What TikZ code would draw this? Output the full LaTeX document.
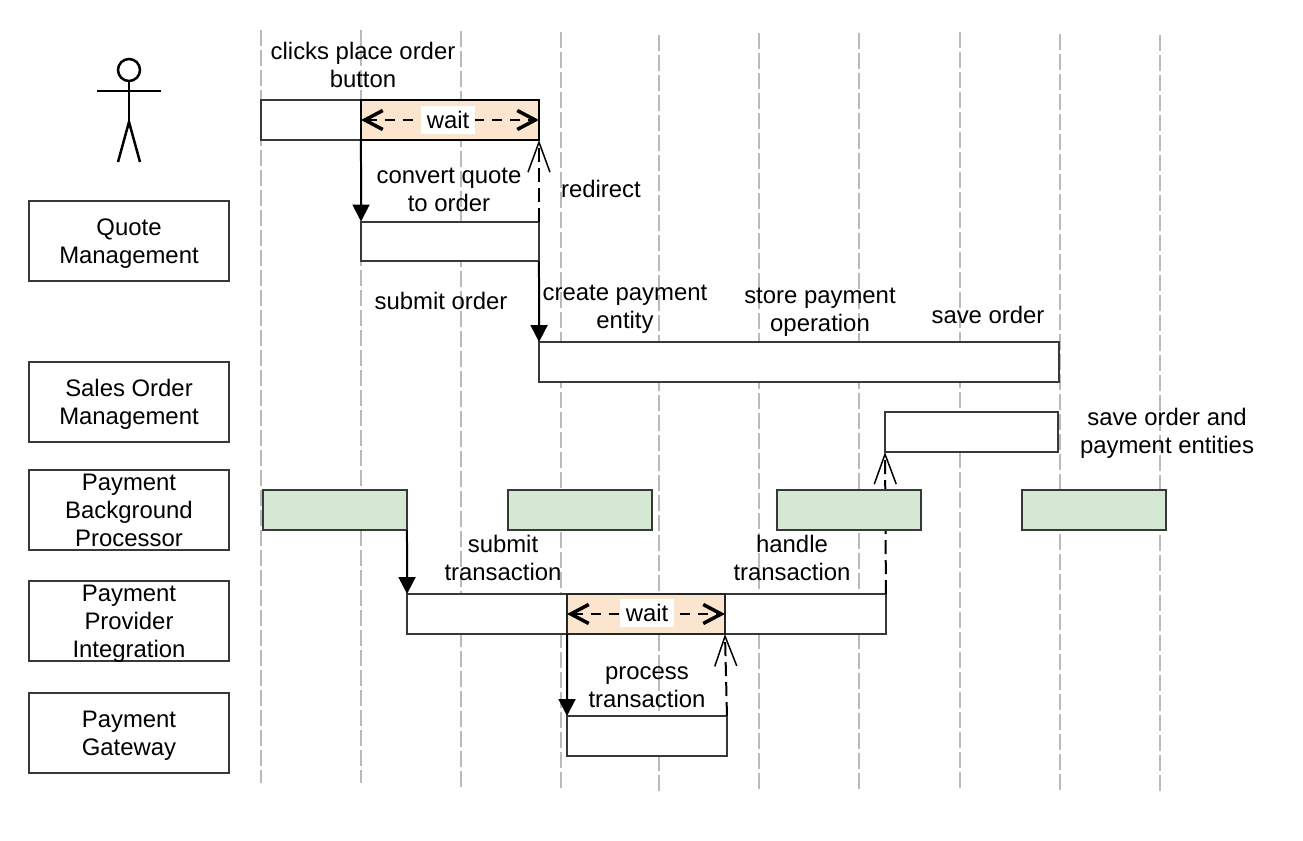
\documentclass[tikz,border=0pt]{standalone}
\usepackage{fontspec}
\setmainfont{Liberation Sans}
\usetikzlibrary{arrows.meta}
\tikzset{
    lifeline/.style={draw=black!27,line width=0.04cm,dash pattern=on 0.32cm off 0.08cm},
    bar/.style={draw=black!78,fill=white,line width=0.04cm,minimum height=0.8cm,inner sep=0,outer sep=0},
    waitbar/.style={bar,draw=black!85,fill=waitfill},
    bgbar/.style={bar,fill=bgfill,minimum width=2.88cm},
    textstyle/.style={font=\fontsize{13.6}{15.9}\selectfont},
    component/.style={bar,textstyle,minimum width=4cm,minimum height=1.6cm,align=center,text depth=0pt},
    label/.style={textstyle,align=center,inner sep=0},
    callarrow/.style={black,line width=0.04cm,-{Triangle[length=0.34cm,width=0.34cm]}},
    returnarrow/.style={black,line width=0.04cm,dash pattern=on 0.28cm off 0.12cm,-{Straight Barb[length=0.6cm,width=0.44cm,line width=0.03cm]}},
    waitspan/.style={black,line width=0.04cm,dash pattern=on 0.2cm off 0.16cm,
        {Straight Barb[length=0.36cm,width=0.38cm,line width=0.07cm]}-{Straight Barb[length=0.36cm,width=0.38cm,line width=0.07cm]}},
    waitlabel/.style={label,fill=white,minimum width=1.08cm,minimum height=0.56cm},
    stick/.style={black,line width=0.05cm}
}
\definecolor{waitfill}{HTML}{FBE5CE}
\definecolor{bgfill}{HTML}{D5E8D4}

\begin{document}
\begin{tikzpicture}[x=0.02cm,y=-0.02cm]
\useasboundingbox (0,0) rectangle (1303,841);
\foreach \x/\ystart/\yend in {261/30/783,361/30/783,461/31/787,561/32/790,659/35/791,759/33/791,859/33/791,960/32/791,1060/34/791,1160/35/791}
	\draw[lifeline](\x,\ystart)--(\x,\yend);

% actor
\draw[stick](129,70)circle(11);
\draw[stick](97,91)--(161,91);
\draw[stick](129,81)--(129,122);
\draw[stick](118,162)--(129,122)--(140,162);

% components
\node[component] (quote) at (129,241) {Quote\\Management};
\node[component] (sales) at (129,402) {Sales Order\\Management};
\node[component] (background) at (129,510) {Payment\\Background\\Processor};
\node[component] (provider) at (129,621) {Payment\\Provider\\Integration};
\node[component] (gateway) at (129,733) {Payment\\Gateway};

% bars
\node[bar,minimum width=2cm] (userbar) at (311,120) {};
\node[waitbar,draw=black,minimum width=3.56cm] (userwait) at (450,120) {};
\node[bar,minimum width=3.56cm] (quotebar) at (450,241.5) {};
\node[bar,minimum width=10.4cm] (salesbar) at (799,362) {};
\node[bar,minimum width=3.46cm] (savebar) at (971.5,432) {};
\node[bar,minimum width=9.58cm] (providerbar) at (646.5,614) {};
\node[waitbar,minimum width=3.16cm] (providerwait) at (646,614) {};
\node[bar,minimum width=3.2cm] (gatewaybar) at (647,736) {};

% calls
\draw[returnarrow](providerbar.north east)--(savebar.south west);
\foreach \x/\name in {335/bgone,580/bgtwo,849/bgthree,1094/bgfour}
	\node[bgbar] (\name) at (\x,510) {};
\draw[callarrow](userbar.south east)--(quotebar.north west);
\draw[returnarrow](quotebar.north east)--(userwait.south east);
\draw[callarrow](quotebar.south east)--(salesbar.north west);
\draw[callarrow](bgone.south east)--(providerbar.north west);
\draw[callarrow](providerwait.south west)--(gatewaybar.north west);
\draw[returnarrow](gatewaybar.north east)--(providerwait.south east);

% waits
\draw[waitspan](userwait.west)--(userwait.east);
\draw[waitspan](providerwait.west)--(providerwait.east);
\node[waitlabel] (waitone) at (448,120) {wait};
\node[waitlabel] (waittwo) at (647,613) {wait};

% labels
\node[label] (clicks) at (363,65) {clicks place order\\button};
\node[label] (convert) at (449,190) {convert quote\\to order};
\node[label] (redirect) at (601,189) {redirect};
\node[label] (submit) at (441,301) {submit order};
\node[label] (create) at (625,309) {create payment\\entity};
\node[label] (store) at (820,312) {store payment\\operation};
\node[label] (saveorder) at (988,315) {save order};
\node[label] (saveboth) at (1167,433) {save order and\\payment entities};
\node[label] (submittrans) at (503,558) {submit\\transaction};
\node[label] (handle) at (792,558) {handle\\transaction};
\node[label] (process) at (647,687) {process\\transaction};
\end{tikzpicture}
\end{document}
